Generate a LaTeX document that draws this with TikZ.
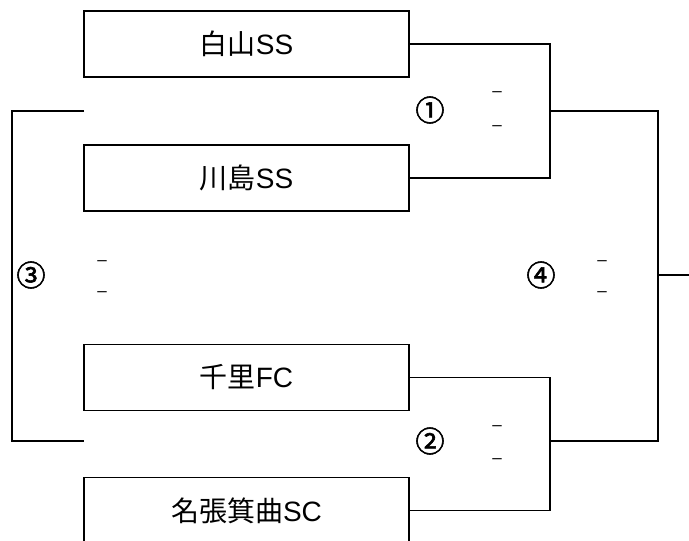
\documentclass[tikz,border=0pt]{standalone}
\usepackage{fontspec}
\setmainfont{Liberation Sans}
\newfontfamily\jpfont{Noto Sans CJK JP}
\newfontfamily\numfont[FakeBold=2]{Noto Sans CJK JP}
\usepackage{tikz}

\tikzset{
  teambox/.style={draw, line width=1.5pt, minimum width=325pt, minimum height=66pt,
    inner sep=0pt, font=\fontsize{28}{32}\selectfont},
  gamenum/.style={font=\numfont\fontsize{29}{32}\selectfont, inner sep=0pt},
  scoredash/.style={font=\fontsize{17}{20}\selectfont, inner sep=0pt},
  bracket/.style={line width=1.5pt}
}

\begin{document}
\begin{tikzpicture}[x=1pt, y=-1pt]
\useasboundingbox (0,0) rectangle (689,541);

% teams
\node[teambox] (hakusan) at (246.5,44) {{\jpfont 白山}SS};
\node[teambox] (kawashima) at (246.5,178) {{\jpfont 川島}SS};
\node[teambox] (senri) at (246.5,377.5) {{\jpfont 千里}FC};
\node[teambox] (minoh) at (246.5,510.5) {{\jpfont 名張箕曲}SC};

% junctions
\coordinate (semi1) at (550,111);
\coordinate (semi2) at (550,441);
\coordinate (finalpt) at (658,275);
\coordinate (winner) at (689,275);
\coordinate (third1) at (84,111);
\coordinate (third2) at (84,441);

% brackets
\draw[bracket] (hakusan.east) -| (semi1) |- (kawashima.east);
\draw[bracket] (senri.east) -| (semi2) |- (minoh.east);
\draw[bracket] (semi1) -| (finalpt) |- (semi2);
\draw[bracket] (finalpt) -- (winner);
\draw[bracket] (third1) -- ++(-72,0) |- (third2);

% game numbers
\node[gamenum] (g1) at (430,110) {①};
\node[gamenum] (g2) at (430,441) {②};
\node[gamenum] (g3) at (31,275) {③};
\node[gamenum] (g4) at (541,275) {④};

% score dashes
\foreach \x/\y in {497/94, 497/128, 497/428, 497/461, 102/263, 102/294, 602/263, 602/294} {
    \node[scoredash] at (\x,\y) {–};
}
\end{tikzpicture}
\end{document}
